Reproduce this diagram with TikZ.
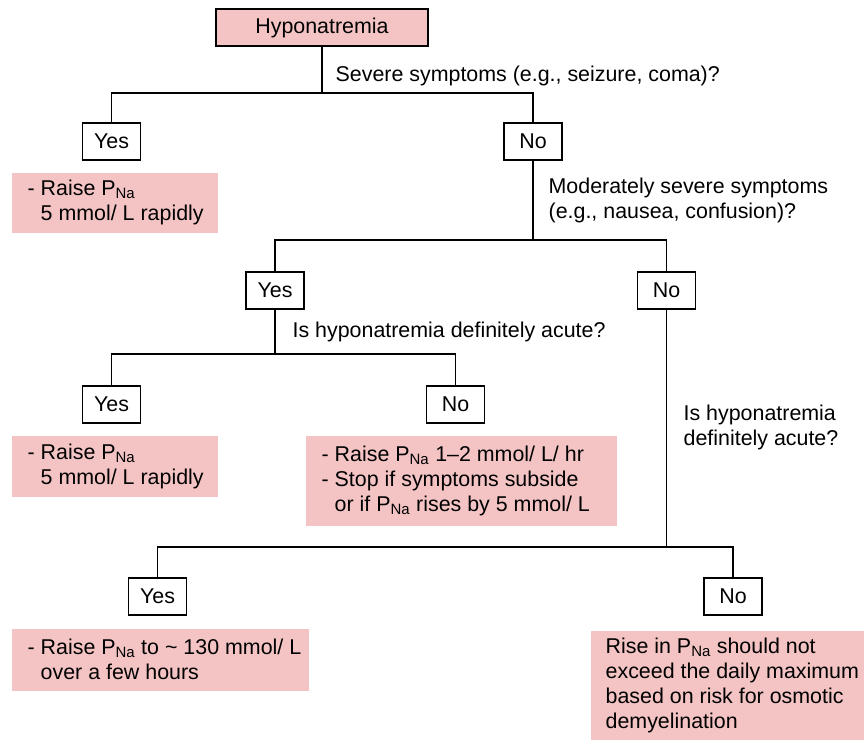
\documentclass[tikz,border=0pt]{standalone}
\usepackage{fontspec}
\setmainfont{Liberation Sans}
\definecolor{pinkc}{RGB}{244,196,196}
\newcommand{\Na}{\textsubscript{Na}}
\newcommand{\hangind}{\phantom{- }}
\begin{document}
\begin{tikzpicture}[x=1pt,y=-1pt,line width=1.3pt,
  every node/.style={font=\fontsize{21.4}{25}\selectfont},
  yn/.style={draw=black,fill=white,minimum width=58pt,minimum height=37pt,inner sep=0pt},
  pinkfill/.style={fill=pinkc,draw=none,anchor=north west,inner sep=0pt},
  ptext/.style={anchor=west,align=left,inner sep=0pt},
  lbl/.style={anchor=west,align=left,inner sep=0pt}]
\useasboundingbox (0,0) rectangle (864,739);

% decision boxes
\node[yn,fill=pinkc,minimum width=212pt] (hypo) at (322,27.5) {Hyponatremia};
\node[yn] (yes1) at (111.5,141.5) {Yes};
\node[yn] (no1)  at (533,141.5) {No};
\node[yn] (yes2) at (275,290.5) {Yes};
\node[yn] (no2)  at (666.5,290.5) {No};
\node[yn] (yes3) at (111.5,404.5) {Yes};
\node[yn] (no3)  at (455.5,404.5) {No};
\node[yn] (yes4) at (157.5,596.5) {Yes};
\node[yn] (no4)  at (733,596.5) {No};

% question labels
\node[lbl] (q1) at (335,75.5) {Severe symptoms (e.g., seizure, coma)?};
\node[lbl] (q2) at (548,200) {Moderately severe symptoms\\(e.g., nausea, confusion)?};
\node[lbl] (q3) at (292,332) {Is hyponatremia definitely acute?};
\node[lbl] (q4) at (683,427) {Is hyponatremia\\definitely acute?};

% action boxes
\node[pinkfill,minimum width=206pt,minimum height=60pt] (b1) at (11,172) {};
\node[ptext] (t1) at ([xshift=16pt]b1.west) {- Raise P\Na\\\hangind 5 mmol/ L rapidly};
\node[pinkfill,minimum width=206pt,minimum height=61pt] (b2) at (11,435) {};
\node[ptext] (t2) at ([xshift=16pt]b2.west) {- Raise P\Na\\\hangind 5 mmol/ L rapidly};
\node[pinkfill,minimum width=311pt,minimum height=90pt] (b3) at (305,435) {};
\node[ptext] (t3) at ([xshift=16pt]b3.west) {- Raise P\Na{} 1--2 mmol/ L/ hr\\- Stop if symptoms subside\\\hangind or if P\Na{} rises by 5 mmol/ L};
\node[pinkfill,minimum width=297pt,minimum height=62pt] (b4) at (11,628) {};
\node[ptext] (t4) at ([xshift=16pt]b4.west) {- Raise P\Na{} to \textasciitilde{} 130 mmol/ L\\\hangind over a few hours};
\node[pinkfill,minimum width=274pt,minimum height=109pt] (b5) at (590,630) {};
\node[ptext] (t5) at ([xshift=15pt]b5.west) {Rise in P\Na{} should not\\exceed the daily maximum\\based on risk for osmotic\\demyelination};

% connectors
\coordinate (j1) at (322,93);
\coordinate (j2) at (533,240);
\coordinate (j3) at (275,354);
\coordinate (j4) at (666.5,547);
\draw (hypo.south) -- (j1);
\draw (yes1.north) |- (j1) -| (no1.north);
\draw (no1.south) -- (j2);
\draw (yes2.north) |- (j2) -| (no2.north);
\draw (yes2.south) -- (j3);
\draw (yes3.north) |- (j3) -| (no3.north);
\draw (no2.south) -- (j4);
\draw (yes4.north) |- (j4) -| (no4.north);
\end{tikzpicture}
\end{document}
